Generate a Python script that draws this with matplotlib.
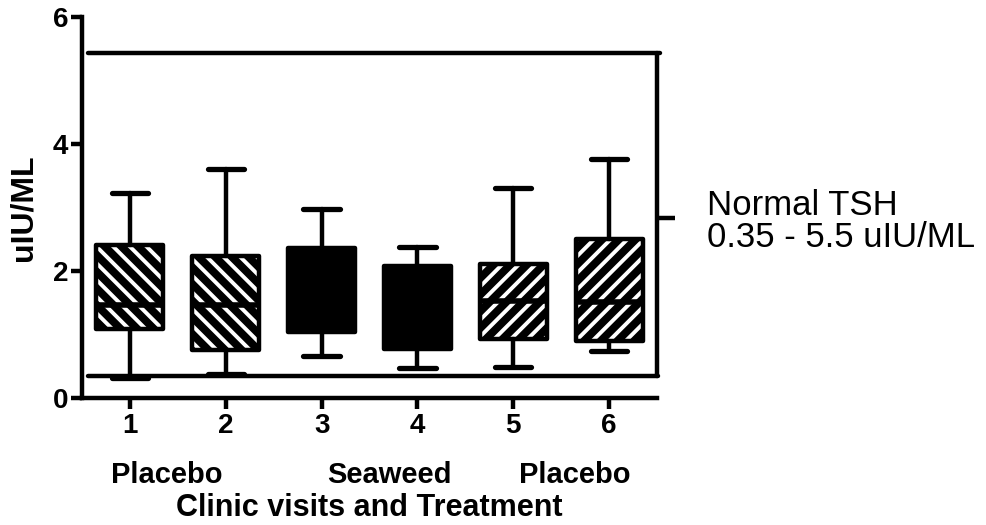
import matplotlib
matplotlib.use("Agg")
import matplotlib.pyplot as plt

# values (uIU/ML)
visits = [1, 2, 3, 4, 5, 6]
whisk_lo = [0.32, 0.38, 0.66, 0.47, 0.49, 0.74]
q1 = [1.08, 0.76, 1.04, 0.77, 0.93, 0.89]
medians = [1.46, 1.46, 1.55, 1.35, 1.52, 1.51]
q3 = [2.41, 2.24, 2.37, 2.08, 2.11, 2.50]
whisk_hi = [3.23, 3.60, 2.98, 2.38, 3.31, 3.77]

normal_range = [0.34, 5.43]   # drawn normal TSH band limits
normal_mid = 2.83
normal_label = "Normal TSH\n0.35 - 5.5 uIU/ML"

treatments = ["Placebo", "Seaweed", "Placebo"]
treatment_x = [1.38, 3.71, 5.64]

hatches = ["\\\\", "\\\\", "", "", "//", "//"]

plt.rcParams["font.family"] = ["Liberation Sans", "DejaVu Sans"]
plt.rcParams["hatch.linewidth"] = 2.8

stats = []
for i in range(len(visits)):
    stats.append({"med": medians[i], "q1": q1[i], "q3": q3[i],
                  "whislo": whisk_lo[i], "whishi": whisk_hi[i], "fliers": []})

fig = plt.figure(figsize=(9.87, 5.25), dpi=100)
ax = fig.add_axes([0.0831, 0.2419, 0.5826, 0.7257])

# fill layer: black boxes with white stripes
fill = ax.bxp(stats, positions=visits, widths=0.7, patch_artist=True,
              showcaps=False, boxprops=dict(facecolor="black", edgecolor="white", linewidth=0),
              whiskerprops=dict(linewidth=0), medianprops=dict(linewidth=0))
for patch, h in zip(fill["boxes"], hatches):
    if h:
        patch.set_hatch(h)

# outline layer
lw = 3.2
ax.bxp(stats, positions=visits, widths=0.7, capwidths=0.38, patch_artist=True,
       boxprops=dict(facecolor="none", edgecolor="black", linewidth=lw, joinstyle="round"),
       whiskerprops=dict(color="black", linewidth=lw, solid_capstyle="round"),
       capprops=dict(color="black", linewidth=lw + 0.6, solid_capstyle="round"),
       medianprops=dict(color="black", linewidth=4))

# normal range lines
ref = ax.hlines(normal_range, [0.56, 0.56], [6.51, 6.53], colors="black",
                linewidth=lw, clip_on=False)
ref.set_capstyle("round")

ax.set_xlim(0.5, 6.5)
ax.set_ylim(0, 6)
ax.set_yticks([0, 2, 4, 6])
ax.set_xticks(visits)
ax.set_xticklabels([str(v) for v in visits])
for s in ["top", "right"]:
    ax.spines[s].set_visible(False)
for s in ["left", "bottom"]:
    ax.spines[s].set_linewidth(lw)
ax.tick_params(axis="both", width=lw, length=8, labelsize=20, pad=2)
ax.tick_params(axis="x", pad=3)
for lab in ax.get_xticklabels() + ax.get_yticklabels():
    lab.set_fontweight("bold")

ax.set_ylabel("uIU/ML", fontsize=23, fontweight="bold")
ax.yaxis.set_label_coords(-0.075, 0.5)
ax.set_xlabel("Clinic visits and Treatment", fontsize=22, fontweight="bold")
ax.xaxis.set_label_coords(0.5, -0.25)

for name, x in zip(treatments, treatment_x):
    ax.text(x, -0.203, name, transform=ax.get_xaxis_transform(), ha="center", va="center",
            fontsize=21, fontweight="bold")

# right axis showing the normal range
ax2 = ax.twinx()
ax2.set_ylim(0, 6)
for s in ["top", "left", "bottom"]:
    ax2.spines[s].set_visible(False)
ax2.spines["right"].set_bounds(normal_range[0], normal_range[1])
ax2.spines["right"].set_linewidth(lw)
ax2.spines["right"].set_capstyle("round")
ax2.set_yticks([normal_mid])
ax2.set_yticklabels([normal_label], fontsize=25, linespacing=0.95)
ax2.tick_params(axis="y", width=lw, length=13, pad=23)
for lab in ax2.get_yticklabels():
    lab.set_va("center_baseline")

fig.savefig("out.png", dpi=100)
